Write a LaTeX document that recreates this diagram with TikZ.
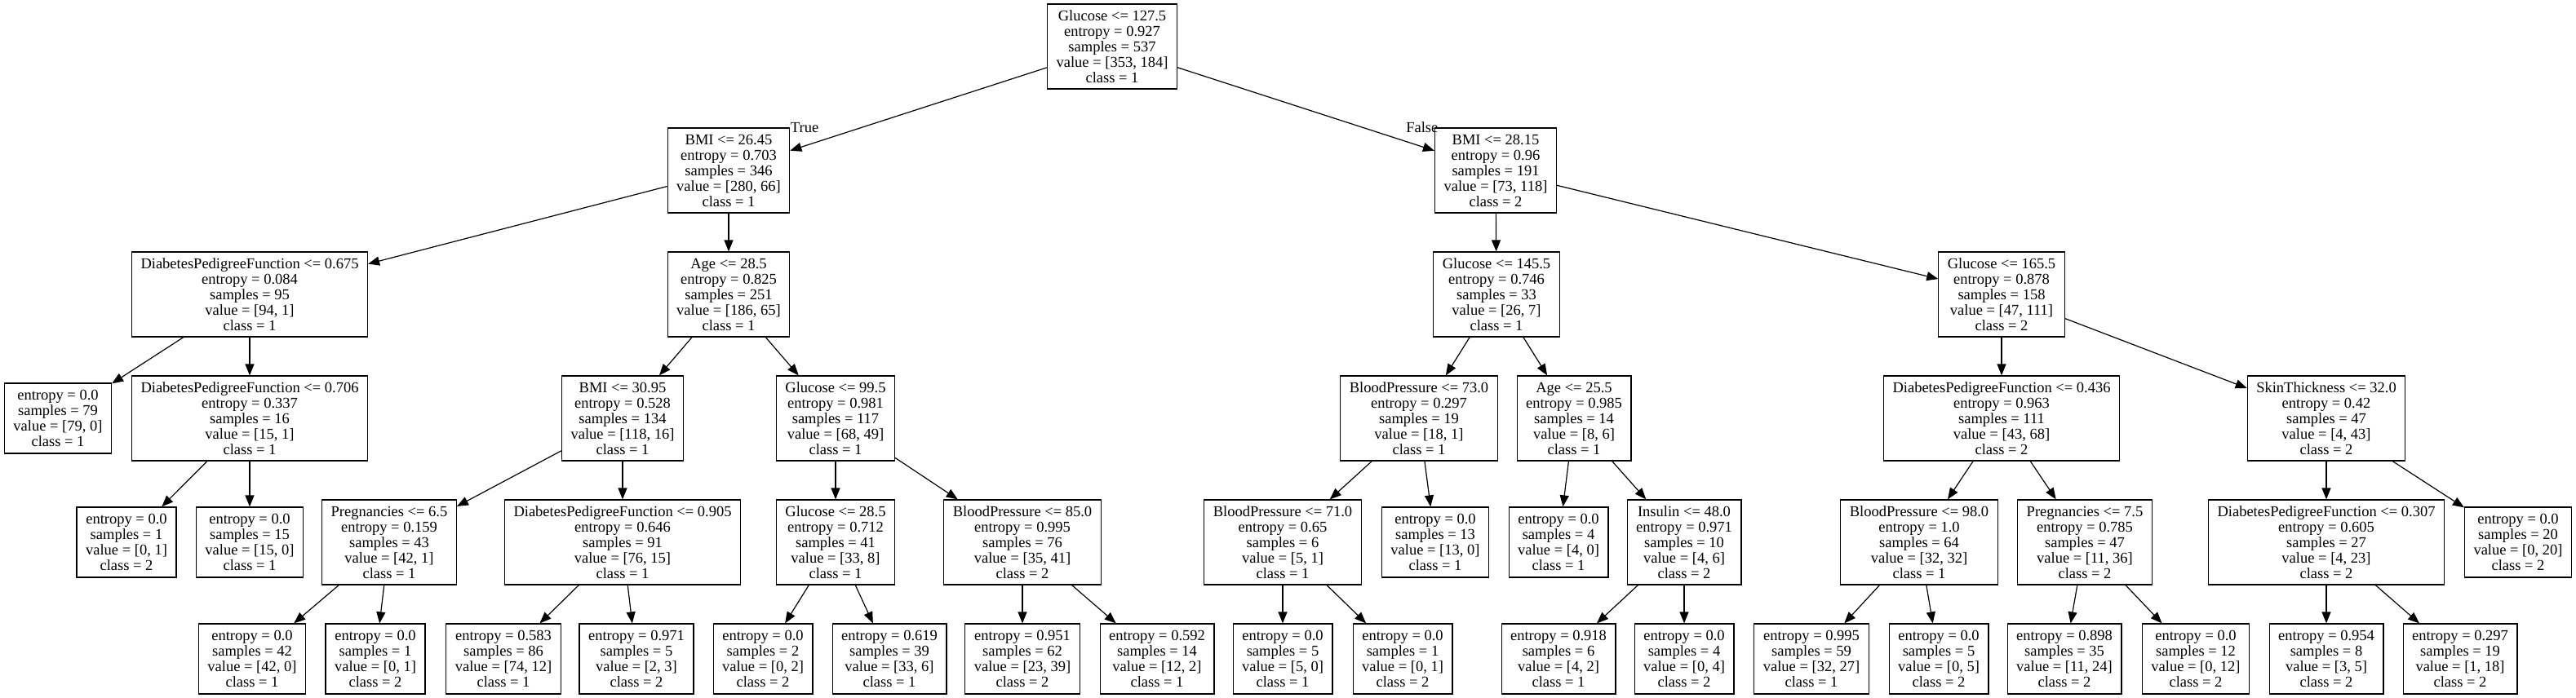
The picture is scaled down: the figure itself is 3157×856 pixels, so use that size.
\documentclass[tikz,border=0pt]{standalone}
\usepackage{fontspec}
\setmainfont{Liberation Serif}
\usetikzlibrary{arrows.meta}

\tikzset{
  splitbox/.style={draw, rectangle, line width=1.2pt, align=center, inner xsep=11pt, inner ysep=2pt, minimum height=104pt, font=\fontsize{18.5pt}{19pt}\selectfont},
  leafbox/.style={splitbox, minimum height=86pt},
  edgelbl/.style={inner sep=0pt, font=\fontsize{18.5pt}{19pt}\selectfont}
}

\begin{document}
\begin{tikzpicture}[x=1pt, y=-1pt, >={Triangle[length=14pt,width=11pt]}, line width=1.2pt]
\useasboundingbox (0,0) rectangle (3157,856);

\node[splitbox] (glu1275) at (1363,57) {Glucose <= 127.5\\entropy = 0.927\\samples = 537\\value = [353, 184]\\class = 1};

\node[splitbox] (bmi2645) at (893,209) {BMI <= 26.45\\entropy = 0.703\\samples = 346\\value = [280, 66]\\class = 1};
\node[splitbox] (bmi2815) at (1833,209) {BMI <= 28.15\\entropy = 0.96\\samples = 191\\value = [73, 118]\\class = 2};

\node[splitbox] (dpf0675) at (306,361) {DiabetesPedigreeFunction <= 0.675\\entropy = 0.084\\samples = 95\\value = [94, 1]\\class = 1};
\node[splitbox] (age285) at (893,361) {Age <= 28.5\\entropy = 0.825\\samples = 251\\value = [186, 65]\\class = 1};
\node[splitbox] (glu1455) at (1834,361) {Glucose <= 145.5\\entropy = 0.746\\samples = 33\\value = [26, 7]\\class = 1};
\node[splitbox] (glu1655) at (2453,361) {Glucose <= 165.5\\entropy = 0.878\\samples = 158\\value = [47, 111]\\class = 2};

\node[leafbox] (leaf79) at (71,513) {entropy = 0.0\\samples = 79\\value = [79, 0]\\class = 1};
\node[splitbox] (dpf0706) at (306,513) {DiabetesPedigreeFunction <= 0.706\\entropy = 0.337\\samples = 16\\value = [15, 1]\\class = 1};
\node[splitbox] (bmi3095) at (763,513) {BMI <= 30.95\\entropy = 0.528\\samples = 134\\value = [118, 16]\\class = 1};
\node[splitbox] (glu995) at (1024,513) {Glucose <= 99.5\\entropy = 0.981\\samples = 117\\value = [68, 49]\\class = 1};
\node[splitbox] (bp730) at (1739,513) {BloodPressure <= 73.0\\entropy = 0.297\\samples = 19\\value = [18, 1]\\class = 1};
\node[splitbox] (age255) at (1929,513) {Age <= 25.5\\entropy = 0.985\\samples = 14\\value = [8, 6]\\class = 1};
\node[splitbox] (dpf0436) at (2453,513) {DiabetesPedigreeFunction <= 0.436\\entropy = 0.963\\samples = 111\\value = [43, 68]\\class = 2};
\node[splitbox] (skin320) at (2851,513) {SkinThickness <= 32.0\\entropy = 0.42\\samples = 47\\value = [4, 43]\\class = 2};

\node[leafbox] (leaf1a) at (155,665) {entropy = 0.0\\samples = 1\\value = [0, 1]\\class = 2};
\node[leafbox] (leaf15) at (306,665) {entropy = 0.0\\samples = 15\\value = [15, 0]\\class = 1};
\node[splitbox] (preg65) at (477,665) {Pregnancies <= 6.5\\entropy = 0.159\\samples = 43\\value = [42, 1]\\class = 1};
\node[splitbox] (dpf0905) at (763,665) {DiabetesPedigreeFunction <= 0.905\\entropy = 0.646\\samples = 91\\value = [76, 15]\\class = 1};
\node[splitbox] (glu285) at (1024,665) {Glucose <= 28.5\\entropy = 0.712\\samples = 41\\value = [33, 8]\\class = 1};
\node[splitbox] (bp850) at (1253,665) {BloodPressure <= 85.0\\entropy = 0.995\\samples = 76\\value = [35, 41]\\class = 2};
\node[splitbox] (bp710) at (1572,665) {BloodPressure <= 71.0\\entropy = 0.65\\samples = 6\\value = [5, 1]\\class = 1};
\node[leafbox] (leaf13) at (1759,665) {entropy = 0.0\\samples = 13\\value = [13, 0]\\class = 1};
\node[leafbox] (leaf4) at (1910,665) {entropy = 0.0\\samples = 4\\value = [4, 0]\\class = 1};
\node[splitbox] (ins480) at (2064,665) {Insulin <= 48.0\\entropy = 0.971\\samples = 10\\value = [4, 6]\\class = 2};
\node[splitbox] (bp980) at (2352,665) {BloodPressure <= 98.0\\entropy = 1.0\\samples = 64\\value = [32, 32]\\class = 1};
\node[splitbox] (preg75) at (2555,665) {Pregnancies <= 7.5\\entropy = 0.785\\samples = 47\\value = [11, 36]\\class = 2};
\node[splitbox] (dpf0307) at (2851,665) {DiabetesPedigreeFunction <= 0.307\\entropy = 0.605\\samples = 27\\value = [4, 23]\\class = 2};
\node[leafbox] (leaf20) at (3086,665) {entropy = 0.0\\samples = 20\\value = [0, 20]\\class = 2};

\node[leafbox] (leaf42) at (309,808) {entropy = 0.0\\samples = 42\\value = [42, 0]\\class = 1};
\node[leafbox] (leaf1b) at (460,808) {entropy = 0.0\\samples = 1\\value = [0, 1]\\class = 2};
\node[leafbox] (leaf86) at (617,808) {entropy = 0.583\\samples = 86\\value = [74, 12]\\class = 1};
\node[leafbox] (leaf5a) at (780,808) {entropy = 0.971\\samples = 5\\value = [2, 3]\\class = 2};
\node[leafbox] (leaf2) at (935,808) {entropy = 0.0\\samples = 2\\value = [0, 2]\\class = 2};
\node[leafbox] (leaf39) at (1090,808) {entropy = 0.619\\samples = 39\\value = [33, 6]\\class = 1};
\node[leafbox] (leaf62) at (1253,808) {entropy = 0.951\\samples = 62\\value = [23, 39]\\class = 2};
\node[leafbox] (leaf14) at (1418,808) {entropy = 0.592\\samples = 14\\value = [12, 2]\\class = 1};
\node[leafbox] (leaf5b) at (1572,808) {entropy = 0.0\\samples = 5\\value = [5, 0]\\class = 1};
\node[leafbox] (leaf1c) at (1719,808) {entropy = 0.0\\samples = 1\\value = [0, 1]\\class = 2};
\node[leafbox] (leaf6) at (1910,808) {entropy = 0.918\\samples = 6\\value = [4, 2]\\class = 1};
\node[leafbox] (leaf4b) at (2064,808) {entropy = 0.0\\samples = 4\\value = [0, 4]\\class = 2};
\node[leafbox] (leaf59) at (2220,808) {entropy = 0.995\\samples = 59\\value = [32, 27]\\class = 1};
\node[leafbox] (leaf5c) at (2376,808) {entropy = 0.0\\samples = 5\\value = [0, 5]\\class = 2};
\node[leafbox] (leaf35) at (2530,808) {entropy = 0.898\\samples = 35\\value = [11, 24]\\class = 2};
\node[leafbox] (leaf12) at (2691,808) {entropy = 0.0\\samples = 12\\value = [0, 12]\\class = 2};
\node[leafbox] (leaf8) at (2851,808) {entropy = 0.954\\samples = 8\\value = [3, 5]\\class = 2};
\node[leafbox] (leaf19) at (3015,808) {entropy = 0.297\\samples = 19\\value = [1, 18]\\class = 2};

\node[edgelbl, anchor=west] (lbltrue) at (bmi2645.north east) {True};
\node[edgelbl, anchor=east] (lblfalse) at ([xshift=5pt]bmi2815.north west) {False};

\draw[->] (glu1275) -- (bmi2645); \draw[->] (glu1275) -- (bmi2815);
\draw[->] (bmi2645) -- (dpf0675); \draw[->] (bmi2645) -- (age285);
\draw[->] (bmi2815) -- (glu1455); \draw[->] (bmi2815) -- (glu1655);
\draw[->] (dpf0675) -- (leaf79); \draw[->] (dpf0675) -- (dpf0706);
\draw[->] (age285) -- (bmi3095); \draw[->] (age285) -- (glu995);
\draw[->] (glu1455) -- (bp730); \draw[->] (glu1455) -- (age255);
\draw[->] (glu1655) -- (dpf0436); \draw[->] (glu1655) -- (skin320);
\draw[->] (dpf0706) -- (leaf1a); \draw[->] (dpf0706) -- (leaf15);
\draw[->] (bmi3095) -- (preg65); \draw[->] (bmi3095) -- (dpf0905);
\draw[->] (glu995) -- (glu285); \draw[->] (glu995) -- (bp850);
\draw[->] (bp730) -- (bp710); \draw[->] (bp730) -- (leaf13);
\draw[->] (age255) -- (leaf4); \draw[->] (age255) -- (ins480);
\draw[->] (dpf0436) -- (bp980); \draw[->] (dpf0436) -- (preg75);
\draw[->] (skin320) -- (dpf0307); \draw[->] (skin320) -- (leaf20);
\draw[->] (preg65) -- (leaf42); \draw[->] (preg65) -- (leaf1b);
\draw[->] (dpf0905) -- (leaf86); \draw[->] (dpf0905) -- (leaf5a);
\draw[->] (glu285) -- (leaf2); \draw[->] (glu285) -- (leaf39);
\draw[->] (bp850) -- (leaf62); \draw[->] (bp850) -- (leaf14);
\draw[->] (bp710) -- (leaf5b); \draw[->] (bp710) -- (leaf1c);
\draw[->] (ins480) -- (leaf6); \draw[->] (ins480) -- (leaf4b);
\draw[->] (bp980) -- (leaf59); \draw[->] (bp980) -- (leaf5c);
\draw[->] (preg75) -- (leaf35); \draw[->] (preg75) -- (leaf12);
\draw[->] (dpf0307) -- (leaf8); \draw[->] (dpf0307) -- (leaf19);
\end{tikzpicture}
\end{document}
